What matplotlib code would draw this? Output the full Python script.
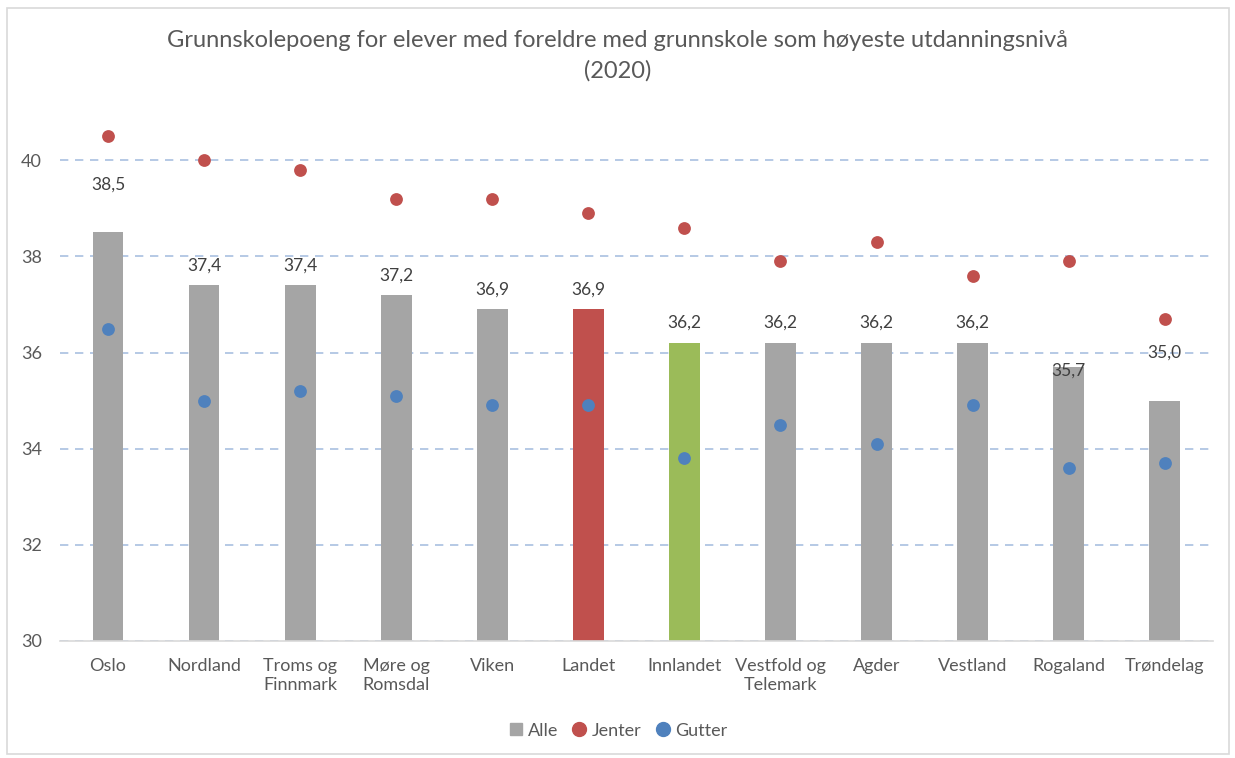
import matplotlib
matplotlib.use("Agg")
import numpy as np
import matplotlib.pyplot as plt
from matplotlib.patches import Rectangle
from matplotlib.lines import Line2D

# Grunnskolepoeng per fylke, foreldre med grunnskole
fylker = ['Oslo', 'Nordland', 'Troms og\nFinnmark', 'Møre og\nRomsdal', 'Viken',
          'Landet', 'Innlandet', 'Vestfold og\nTelemark', 'Agder', 'Vestland',
          'Rogaland', 'Trøndelag']
alle = [38.5, 37.4, 37.4, 37.2, 36.9, 36.9, 36.2, 36.2, 36.2, 36.2, 35.7, 35.0]
jenter = [40.5, 40.0, 39.8, 39.2, 39.2, 38.9, 38.6, 37.9, 38.3, 37.6, 37.9, 36.7]
gutter = [36.5, 35.0, 35.2, 35.1, 34.9, 34.9, 33.8, 34.5, 34.1, 34.9, 33.6, 33.7]

# label nudges (the original has a few labels moved by hand)
lbl_off = [1.0, 0.4, 0.4, 0.4, 0.4, 0.4, 0.43, 0.43, 0.43, 0.43, -0.08, 1.0]

GRAY = '#A5A5A5'
RED = '#C0504D'
BLUE = '#4F81BD'
GREEN = '#9BBB59'
TXT = '#595959'

plt.rcParams['font.family'] = ['Lato', 'DejaVu Sans']

fig = plt.figure(figsize=(12.35, 7.58), dpi=100)
ax = fig.add_axes([0.0486, 0.1544, 0.9334, 0.6976])

x = np.arange(len(fylker))
cols = [GRAY] * len(fylker)
cols[fylker.index('Landet')] = RED
cols[fylker.index('Innlandet')] = GREEN
ax.bar(x, [a - 30 for a in alle], bottom=30, width=0.32, color=cols, zorder=2)
ax.scatter(x, jenter, s=85, color=RED, zorder=3, linewidths=0)
ax.scatter(x, gutter, s=85, color=BLUE, zorder=3, linewidths=0)

for xi, a, o in zip(x, alle, lbl_off):
    ax.text(xi, a + o, ('%.1f' % a).replace('.', ','), ha='center', va='center',
            fontsize=12.5, color='#404040', zorder=4)

ax.set_ylim(30, 41)
ax.set_xlim(-0.5, len(fylker) - 0.5)
ax.set_yticks([30, 32, 34, 36, 38, 40])
ax.set_xticks(x)
ax.set_xticklabels(fylker, fontsize=13, color=TXT, linespacing=1.25)
ax.tick_params(axis='y', labelsize=13, labelcolor=TXT, length=0, pad=13)
ax.tick_params(axis='x', length=0, pad=12)
ax.yaxis.grid(True, color='#A9C0E0', linestyle=(0, (5, 4)), linewidth=1.2, zorder=0)
ax.set_axisbelow(True)
for s in ['top', 'right', 'left']:
    ax.spines[s].set_visible(False)
ax.spines['bottom'].set_color('#D9D9D9')
ax.spines['bottom'].set_linewidth(1.2)

fig.text(0.5, 0.926, 'Grunnskolepoeng for elever med foreldre med grunnskole som høyeste utdanningsnivå\n(2020)',
         ha='center', va='center', fontsize=17, color=TXT, linespacing=1.5)

handles = [Line2D([], [], marker='s', linestyle='', color=GRAY, markersize=8),
           Line2D([], [], marker='o', linestyle='', color=RED, markersize=10),
           Line2D([], [], marker='o', linestyle='', color=BLUE, markersize=10)]
fig.legend(handles, ['Alle', 'Jenter', 'Gutter'], loc='center', bbox_to_anchor=(0.5, 0.036),
           ncol=3, frameon=False, fontsize=13, handlelength=0.9, handletextpad=0.25,
           columnspacing=0.7, labelcolor=TXT)

fig.patches.append(Rectangle((0.006, 0.005), 0.989, 0.985, transform=fig.transFigure,
                             fill=False, edgecolor='#D9D9D9', linewidth=1.2))

fig.savefig('out.png', dpi=100)
